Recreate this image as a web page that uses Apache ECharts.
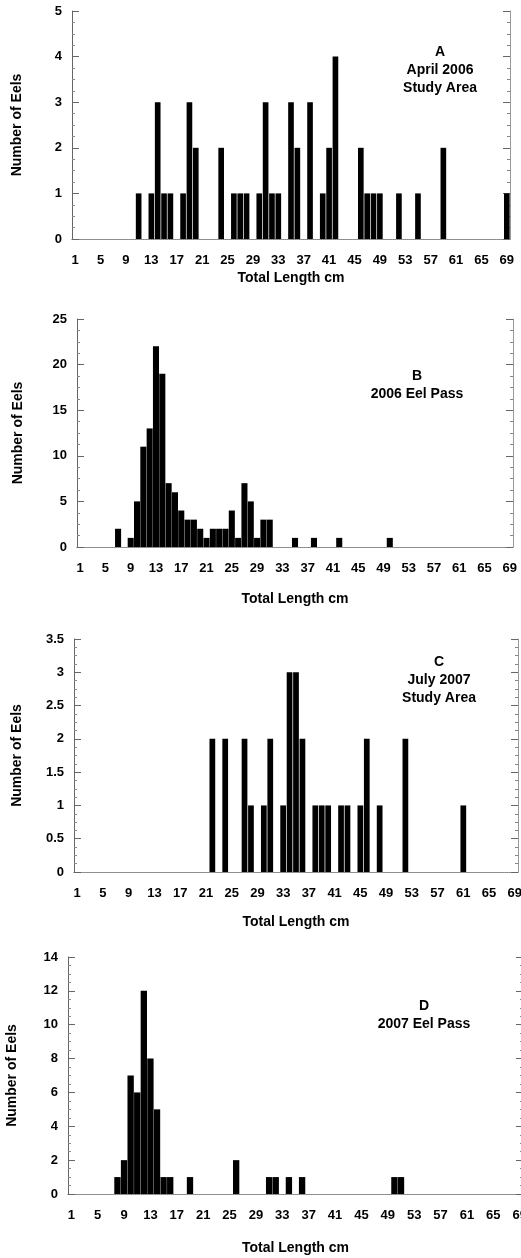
<!DOCTYPE html>
<html>
<head>
<meta charset="utf-8">
<script src="https://cdn.jsdelivr.net/npm/echarts@6/dist/echarts.min.js"></script>
<style>
  html, body { margin: 0; padding: 0; background: #fff; }
  #main { width: 521px; height: 1258px; }
</style>
</head>
<body>
<div id="main"></div>
<script>
// total length classes (cm), shared by the four panels
var lengths = [1,2,3,4,5,6,7,8,9,10,11,12,13,14,15,16,17,18,19,20,21,22,23,24,25,26,27,28,29,30,
  31,32,33,34,35,36,37,38,39,40,41,42,43,44,45,46,47,48,49,50,51,52,53,54,55,56,57,58,59,60,
  61,62,63,64,65,66,67,68,69];

// A - April 2006 study area
var aLen = [11,13,14,15,16,18,19,20,24,26,27,28,30,31,32,33,35,36,38,40,41,42,46,47,48,49,52,55,59,69];
var aCnt = [ 1, 1, 3, 1, 1, 1, 3, 2, 2, 1, 1, 1, 1, 3, 1, 1, 3, 2, 3, 1, 2, 4, 2, 1, 1, 1, 1, 1, 2, 1];

// B - 2006 eel pass
var bLen = [7,9,10,11,12,13,14,15,16,17,18,19,20,21,22,23,24,25,26,27,28,29,30,31,35,38,42,50];
var bCnt = [2,1, 5,11,13,22,19, 7, 6, 4, 3, 3, 2, 1, 2, 2, 2, 4, 1, 7, 5, 1, 3, 3, 1, 1, 1, 1];

// C - July 2007 study area
var cLen = [22,24,27,28,30,31,33,34,35,36,38,39,40,42,43,45,46,48,52,61];
var cCnt = [ 2, 2, 2, 1, 1, 2, 1, 3, 3, 2, 1, 1, 1, 1, 1, 1, 2, 1, 2, 1];

// D - 2007 eel pass
var dLen = [8,9,10,11,12,13,14,15,16,19,26,31,32,34,36,50,51];
var dCnt = [1,2, 7, 6,12, 8, 5, 1, 1, 1, 2, 1, 1, 1, 1, 1, 1];

var notes = [
  'A\nApril 2006\nStudy Area',
  'B\n2006 Eel Pass',
  'C\nJuly 2007\nStudy Area',
  'D\n2007 Eel Pass'
];

function toSeries(lens, cnts) {
  var d = lengths.map(function () { return 0; });
  lens.forEach(function (l, i) { d[lengths.indexOf(l)] = cnts[i]; });
  return d;
}

var panels = [
  { data: toSeries(aLen, aCnt), max: 5,   step: 1,   left: 72, top: 11,  width: 438, height: 228, xGap: 32, yGap: 48, gap: '11%', note: [440, 70] },
  { data: toSeries(bLen, bCnt), max: 25,  step: 5,   left: 77, top: 319, width: 436, height: 228, xGap: 45, yGap: 52, gap: '4%',  note: [417, 385] },
  { data: toSeries(cLen, cCnt), max: 3.5, step: 0.5, left: 74, top: 639, width: 444, height: 233, xGap: 43, yGap: 50, gap: '11%', note: [439, 680] },
  { data: toSeries(dLen, dCnt), max: 14,  step: 2,   left: 68, top: 957, width: 455, height: 237, xGap: 47, yGap: 49, gap: '4%',  note: [424, 1015] }
];

var font = '"Liberation Sans", Arial, sans-serif';
var grid = [], xAxis = [], yAxis = [], series = [], graphic = [];

panels.forEach(function (p, i) {
  grid.push({ left: p.left, top: p.top, width: p.width, height: p.height, containLabel: false, outerBoundsMode: 'none' });
  // bottom axis with labels
  xAxis.push({
    type: 'category', gridIndex: i, position: 'bottom', data: lengths,
    axisLine: { lineStyle: { color: '#666', width: 1 } },
    axisTick: { inside: true, length: 4, interval: 0, lineStyle: { color: '#666' } },
    axisLabel: { interval: 3, margin: 15, color: '#000', fontSize: 13, fontWeight: 'bold', fontFamily: font },
    name: 'Total Length cm', nameLocation: 'middle', nameGap: p.xGap,
    nameTextStyle: { color: '#000', fontSize: 14, fontWeight: 'bold', fontFamily: font }
  });
  // top frame
  xAxis.push({
    type: 'category', gridIndex: i, position: 'top', data: lengths,
    axisLine: { lineStyle: { color: '#999', width: 1, type: 'dotted' } },
    axisTick: { inside: true, length: 4, interval: 0, lineStyle: { color: '#777' } },
    axisLabel: { show: false }
  });
  yAxis.push({
    type: 'value', gridIndex: i, position: 'left', min: 0, max: p.max, interval: p.step,
    axisLine: { show: true, lineStyle: { color: '#666', width: 1 } },
    axisTick: { show: true, inside: true, length: 7, lineStyle: { color: '#666' } },
    minorTick: { show: true, splitNumber: 4, length: 3, lineStyle: { color: '#888' } },
    splitLine: { show: false },
    axisLabel: { margin: 10, color: '#000', fontSize: 13, fontWeight: 'bold', fontFamily: font },
    name: 'Number of Eels', nameLocation: 'middle', nameGap: p.yGap,
    nameTextStyle: { color: '#000', fontSize: 14, fontWeight: 'bold', fontFamily: font }
  });
  // right frame
  yAxis.push({
    type: 'value', gridIndex: i, position: 'right', min: 0, max: p.max, interval: p.step,
    axisLine: { show: true, lineStyle: { color: '#999', width: 1 } },
    axisTick: { show: true, inside: true, length: 7, lineStyle: { color: '#666' } },
    minorTick: { show: true, splitNumber: 4, length: 3, lineStyle: { color: '#888' } },
    splitLine: { show: false },
    axisLabel: { show: false }
  });
  series.push({
    type: 'bar', xAxisIndex: 2 * i, yAxisIndex: 2 * i, data: p.data,
    barCategoryGap: p.gap, itemStyle: { color: '#000' }, silent: true
  });
  graphic.push({
    type: 'text', x: p.note[0], y: p.note[1],
    style: {
      text: notes[i], fill: '#000', align: 'center', verticalAlign: 'middle',
      font: 'bold 14px ' + font, lineHeight: 18
    }
  });
});

var chart = echarts.init(document.getElementById('main'));
chart.setOption({
  animation: false,
  backgroundColor: '#fff',
  grid: grid,
  xAxis: xAxis,
  yAxis: yAxis,
  series: series,
  graphic: graphic
});
</script>
</body>
</html>
